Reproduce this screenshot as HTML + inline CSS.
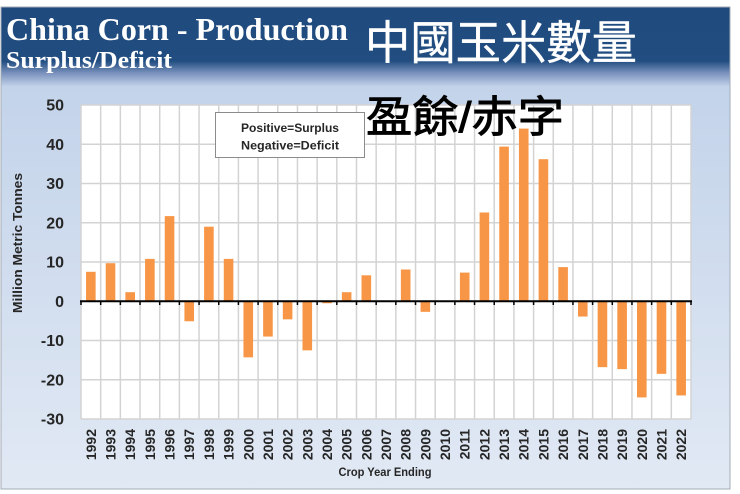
<!DOCTYPE html>
<html><head><meta charset="utf-8"><style>
html,body{margin:0;padding:0;background:#fff;}
svg{display:block;}
</style></head><body>
<svg width="740" height="494" viewBox="0 0 740 494" xmlns="http://www.w3.org/2000/svg">
<defs>
<linearGradient id="bg" x1="0" y1="7" x2="0" y2="489" gradientUnits="userSpaceOnUse">
<stop offset="0" stop-color="#1f4a7e"/>
<stop offset="0.112" stop-color="#214d80"/>
<stop offset="0.137" stop-color="#7a91bd"/>
<stop offset="0.165" stop-color="#c3d3ea"/>
<stop offset="1" stop-color="#e1e9f4"/>
</linearGradient>
</defs>
<rect x="1" y="7" width="729" height="482" fill="url(#bg)" stroke="#a4abb5" stroke-width="1"/>
<text x="6" y="40" font-family="Liberation Serif, serif" font-weight="bold" font-size="32" fill="#fff" textLength="342" lengthAdjust="spacingAndGlyphs">China Corn - Production</text>
<text x="6" y="68" font-family="Liberation Serif, serif" font-weight="bold" font-size="24" fill="#fff" textLength="166" lengthAdjust="spacingAndGlyphs">Surplus/Deficit</text>
<text x="365" y="59" font-family="Liberation Sans, Noto Sans CJK TC, sans-serif" font-size="46" fill="#fff" stroke="#fff" stroke-width="0.4" textLength="272" lengthAdjust="spacingAndGlyphs">中國玉米數量</text>
<rect x="81" y="105" width="610" height="314" fill="#fff"/>
<g stroke="#d3d3d3" stroke-width="1.5">
<line x1="81" y1="105" x2="691" y2="105"/><line x1="81" y1="144.25" x2="691" y2="144.25"/><line x1="81" y1="183.5" x2="691" y2="183.5"/><line x1="81" y1="222.75" x2="691" y2="222.75"/><line x1="81" y1="262" x2="691" y2="262"/><line x1="81" y1="340.5" x2="691" y2="340.5"/><line x1="81" y1="379.75" x2="691" y2="379.75"/><line x1="81" y1="419" x2="691" y2="419"/>
<line x1="81" y1="105" x2="81" y2="419"/><line x1="100.68" y1="105" x2="100.68" y2="419"/><line x1="120.35" y1="105" x2="120.35" y2="419"/><line x1="140.03" y1="105" x2="140.03" y2="419"/><line x1="159.71" y1="105" x2="159.71" y2="419"/><line x1="179.39" y1="105" x2="179.39" y2="419"/><line x1="199.06" y1="105" x2="199.06" y2="419"/><line x1="218.74" y1="105" x2="218.74" y2="419"/><line x1="238.42" y1="105" x2="238.42" y2="419"/><line x1="258.10" y1="105" x2="258.10" y2="419"/><line x1="277.77" y1="105" x2="277.77" y2="419"/><line x1="297.45" y1="105" x2="297.45" y2="419"/><line x1="317.13" y1="105" x2="317.13" y2="419"/><line x1="336.81" y1="105" x2="336.81" y2="419"/><line x1="356.48" y1="105" x2="356.48" y2="419"/><line x1="376.16" y1="105" x2="376.16" y2="419"/><line x1="395.84" y1="105" x2="395.84" y2="419"/><line x1="415.52" y1="105" x2="415.52" y2="419"/><line x1="435.19" y1="105" x2="435.19" y2="419"/><line x1="454.87" y1="105" x2="454.87" y2="419"/><line x1="474.55" y1="105" x2="474.55" y2="419"/><line x1="494.23" y1="105" x2="494.23" y2="419"/><line x1="513.90" y1="105" x2="513.90" y2="419"/><line x1="533.58" y1="105" x2="533.58" y2="419"/><line x1="553.26" y1="105" x2="553.26" y2="419"/><line x1="572.94" y1="105" x2="572.94" y2="419"/><line x1="592.61" y1="105" x2="592.61" y2="419"/><line x1="612.29" y1="105" x2="612.29" y2="419"/><line x1="631.97" y1="105" x2="631.97" y2="419"/><line x1="651.65" y1="105" x2="651.65" y2="419"/><line x1="671.32" y1="105" x2="671.32" y2="419"/><line x1="691" y1="105" x2="691" y2="419"/>
</g>
<g fill="#f79646">
<rect x="86.04" y="271.8" width="9.6" height="29.45"/>
<rect x="105.72" y="263.2" width="9.6" height="38.05"/>
<rect x="125.39" y="292.2" width="9.6" height="9.05"/>
<rect x="145.07" y="258.9" width="9.6" height="42.35"/>
<rect x="164.75" y="216.1" width="9.6" height="85.15"/>
<rect x="184.43" y="301.25" width="9.6" height="20.0"/>
<rect x="204.10" y="226.7" width="9.6" height="74.55"/>
<rect x="223.78" y="258.9" width="9.6" height="42.35"/>
<rect x="243.46" y="301.25" width="9.6" height="56.1"/>
<rect x="263.14" y="301.25" width="9.6" height="35.3"/>
<rect x="282.81" y="301.25" width="9.6" height="18.1"/>
<rect x="302.49" y="301.25" width="9.6" height="49.1"/>
<rect x="322.17" y="301.25" width="9.6" height="2.0"/>
<rect x="341.85" y="292.2" width="9.6" height="9.05"/>
<rect x="361.52" y="275.3" width="9.6" height="25.95"/>
<rect x="400.88" y="269.5" width="9.6" height="31.75"/>
<rect x="420.56" y="301.25" width="9.6" height="10.6"/>
<rect x="459.91" y="272.6" width="9.6" height="28.65"/>
<rect x="479.59" y="212.5" width="9.6" height="88.75"/>
<rect x="499.27" y="146.6" width="9.6" height="154.65"/>
<rect x="518.94" y="128.6" width="9.6" height="172.65"/>
<rect x="538.62" y="159.2" width="9.6" height="142.05"/>
<rect x="558.30" y="267.1" width="9.6" height="34.15"/>
<rect x="577.98" y="301.25" width="9.6" height="15.3"/>
<rect x="597.65" y="301.25" width="9.6" height="65.9"/>
<rect x="617.33" y="301.25" width="9.6" height="67.9"/>
<rect x="637.01" y="301.25" width="9.6" height="96.2"/>
<rect x="656.69" y="301.25" width="9.6" height="72.6"/>
<rect x="676.36" y="301.25" width="9.6" height="94.2"/>
</g>
<line x1="80" y1="301.25" x2="692" y2="301.25" stroke="#000" stroke-width="2"/>
<g stroke="#000" stroke-width="1.5">
<line x1="81" y1="301" x2="81" y2="305"/><line x1="100.68" y1="301" x2="100.68" y2="305"/><line x1="120.35" y1="301" x2="120.35" y2="305"/><line x1="140.03" y1="301" x2="140.03" y2="305"/><line x1="159.71" y1="301" x2="159.71" y2="305"/><line x1="179.39" y1="301" x2="179.39" y2="305"/><line x1="199.06" y1="301" x2="199.06" y2="305"/><line x1="218.74" y1="301" x2="218.74" y2="305"/><line x1="238.42" y1="301" x2="238.42" y2="305"/><line x1="258.10" y1="301" x2="258.10" y2="305"/><line x1="277.77" y1="301" x2="277.77" y2="305"/><line x1="297.45" y1="301" x2="297.45" y2="305"/><line x1="317.13" y1="301" x2="317.13" y2="305"/><line x1="336.81" y1="301" x2="336.81" y2="305"/><line x1="356.48" y1="301" x2="356.48" y2="305"/><line x1="376.16" y1="301" x2="376.16" y2="305"/><line x1="395.84" y1="301" x2="395.84" y2="305"/><line x1="415.52" y1="301" x2="415.52" y2="305"/><line x1="435.19" y1="301" x2="435.19" y2="305"/><line x1="454.87" y1="301" x2="454.87" y2="305"/><line x1="474.55" y1="301" x2="474.55" y2="305"/><line x1="494.23" y1="301" x2="494.23" y2="305"/><line x1="513.90" y1="301" x2="513.90" y2="305"/><line x1="533.58" y1="301" x2="533.58" y2="305"/><line x1="553.26" y1="301" x2="553.26" y2="305"/><line x1="572.94" y1="301" x2="572.94" y2="305"/><line x1="592.61" y1="301" x2="592.61" y2="305"/><line x1="612.29" y1="301" x2="612.29" y2="305"/><line x1="631.97" y1="301" x2="631.97" y2="305"/><line x1="651.65" y1="301" x2="651.65" y2="305"/><line x1="671.32" y1="301" x2="671.32" y2="305"/><line x1="691" y1="301" x2="691" y2="305"/>
</g>
<g font-family="Liberation Sans, sans-serif" font-weight="bold" font-size="16" fill="#262626" text-anchor="end">
<text x="64" y="110.5">50</text><text x="64" y="149.75">40</text><text x="64" y="189">30</text><text x="64" y="228.25">20</text><text x="64" y="267.5">10</text><text x="64" y="306.75">0</text><text x="64" y="346">-10</text><text x="64" y="385.25">-20</text><text x="64" y="424.5">-30</text>
</g>
<g font-family="Liberation Sans, sans-serif" font-weight="bold" font-size="14" fill="#262626" text-anchor="end">
<text transform="translate(95.84,429) rotate(-90)">1992</text>
<text transform="translate(115.52,429) rotate(-90)">1993</text>
<text transform="translate(135.19,429) rotate(-90)">1994</text>
<text transform="translate(154.87,429) rotate(-90)">1995</text>
<text transform="translate(174.55,429) rotate(-90)">1996</text>
<text transform="translate(194.23,429) rotate(-90)">1997</text>
<text transform="translate(213.90,429) rotate(-90)">1998</text>
<text transform="translate(233.58,429) rotate(-90)">1999</text>
<text transform="translate(253.26,429) rotate(-90)">2000</text>
<text transform="translate(272.94,429) rotate(-90)">2001</text>
<text transform="translate(292.61,429) rotate(-90)">2002</text>
<text transform="translate(312.29,429) rotate(-90)">2003</text>
<text transform="translate(331.97,429) rotate(-90)">2004</text>
<text transform="translate(351.65,429) rotate(-90)">2005</text>
<text transform="translate(371.32,429) rotate(-90)">2006</text>
<text transform="translate(391.00,429) rotate(-90)">2007</text>
<text transform="translate(410.68,429) rotate(-90)">2008</text>
<text transform="translate(430.36,429) rotate(-90)">2009</text>
<text transform="translate(450.03,429) rotate(-90)">2010</text>
<text transform="translate(469.71,429) rotate(-90)">2011</text>
<text transform="translate(489.39,429) rotate(-90)">2012</text>
<text transform="translate(509.07,429) rotate(-90)">2013</text>
<text transform="translate(528.74,429) rotate(-90)">2014</text>
<text transform="translate(548.42,429) rotate(-90)">2015</text>
<text transform="translate(568.10,429) rotate(-90)">2016</text>
<text transform="translate(587.78,429) rotate(-90)">2017</text>
<text transform="translate(607.45,429) rotate(-90)">2018</text>
<text transform="translate(627.13,429) rotate(-90)">2019</text>
<text transform="translate(646.81,429) rotate(-90)">2020</text>
<text transform="translate(666.49,429) rotate(-90)">2021</text>
<text transform="translate(686.16,429) rotate(-90)">2022</text>
</g>
<text transform="translate(22,243) rotate(-90)" text-anchor="middle" font-family="Liberation Sans, sans-serif" font-weight="bold" font-size="13" fill="#262626" textLength="140" lengthAdjust="spacingAndGlyphs">Million Metric Tonnes</text>
<text x="385" y="476" text-anchor="middle" font-family="Liberation Sans, sans-serif" font-weight="bold" font-size="12" fill="#262626" textLength="93" lengthAdjust="spacingAndGlyphs">Crop Year Ending</text>
<rect x="215.5" y="112.5" width="149" height="45" fill="#fff" stroke="#8c8c8c" stroke-width="1"/>
<g font-family="Liberation Sans, sans-serif" font-weight="bold" font-size="12" fill="#262626" text-anchor="middle">
<text x="290" y="132" textLength="98" lengthAdjust="spacingAndGlyphs">Positive=Surplus</text>
<text x="290" y="149.5" textLength="98" lengthAdjust="spacingAndGlyphs">Negative=Deficit</text>
</g>
<text x="366" y="132" font-family="Liberation Sans, Noto Sans CJK TC, sans-serif" font-size="43" fill="#000" stroke="#000" stroke-width="0.9" textLength="198" lengthAdjust="spacingAndGlyphs">盈餘/赤字</text>
</svg>
</body></html>
